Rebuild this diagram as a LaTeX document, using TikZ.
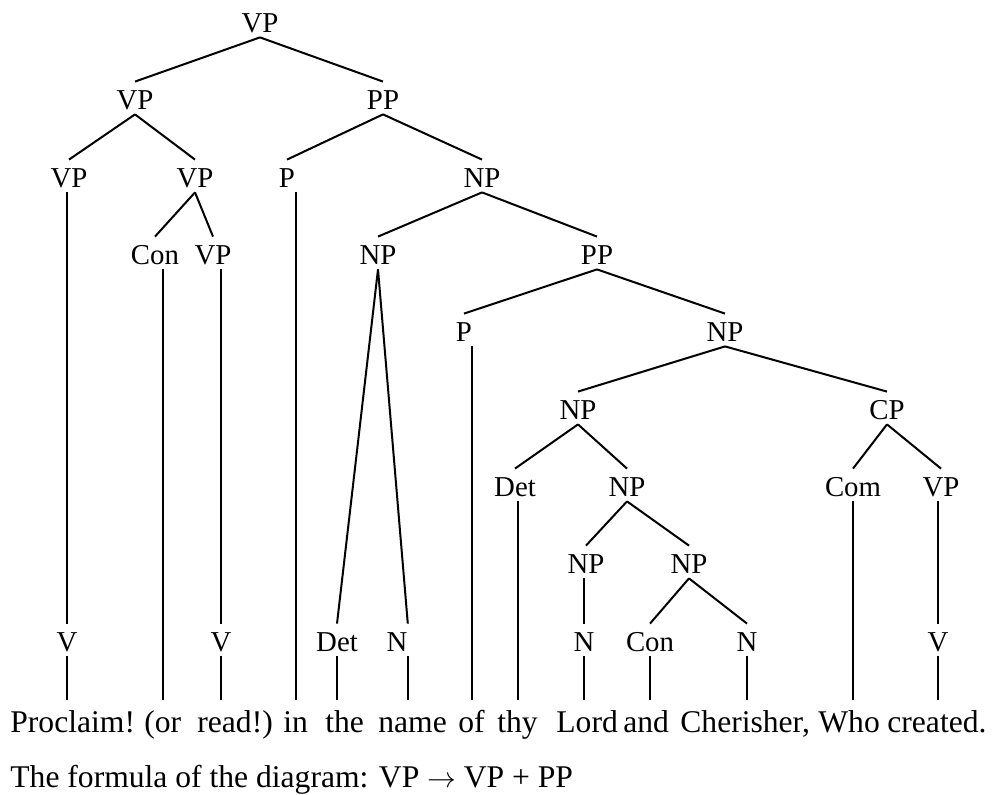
\documentclass[tikz,border=0pt]{standalone}
\usepackage{fontspec}
\setmainfont{Liberation Serif}

\begin{document}
\begin{tikzpicture}[
      x=0.5pt,y=-0.5pt,
      cat/.style={anchor=base,inner sep=0pt,text height=14pt,text depth=2pt,
                  font=\fontsize{14.4}{16}\selectfont},
      word/.style={anchor=base west,inner sep=0pt,text height=16pt,text depth=0pt,
                   font=\fontsize{15.8}{18}\selectfont},
      br/.style={line width=1pt}
    ]
      \useasboundingbox (0,0) rectangle (995,795);

      % categories
      \node[cat] (vp0) at (260,33) {VP};
      \node[cat] (vp1) at (135,110) {VP};
      \node[cat] (pp1) at (383,110) {PP};
      \node[cat] (vp2) at (69,188) {VP};
      \node[cat] (vp3) at (195,188) {VP};
      \node[cat] (p1) at (287,188) {P};
      \node[cat] (np1) at (482,188) {NP};
      \node[cat] (con1) at (155,265) {Con};
      \node[cat] (vp4) at (213,265) {VP};
      \node[cat] (np2) at (378,265) {NP};
      \node[cat] (pp2) at (597,265) {PP};
      \node[cat] (p2) at (464,342) {P};
      \node[cat] (np3) at (725,342) {NP};
      \node[cat] (np4) at (578,420) {NP};
      \node[cat] (cp) at (887,420) {CP};
      \node[cat] (det2) at (515,497) {Det};
      \node[cat] (np5) at (627,497) {NP};
      \node[cat] (com) at (853,497) {Com};
      \node[cat] (vp5) at (941,497) {VP};
      \node[cat] (np6) at (586,574) {NP};
      \node[cat] (np7) at (689,574) {NP};
      \node[cat] (v1) at (67,652) {V};
      \node[cat] (v2) at (221,652) {V};
      \node[cat] (det1) at (337,652) {Det};
      \node[cat] (n1) at (397,652) {N};
      \node[cat] (n2) at (584,652) {N};
      \node[cat] (con2) at (650,652) {Con};
      \node[cat] (n3) at (747,652) {N};
      \node[cat] (v3) at (938,652) {V};

      % sentence
      \node[word] (w1) at (10,732) {Proclaim!};
      \node[word] (w2) at (144,732) {(or};
      \node[word] (w3) at (197,732) {read!)};
      \node[word] (w4) at (283,732) {in};
      \node[word] (w5) at (325,732) {the};
      \node[word] (w6) at (378,732) {name};
      \node[word] (w7) at (458,732) {of};
      \node[word] (w8) at (497,732) {thy};
      \node[word] (w9) at (556,732) {Lord};
      \node[word] (w10) at (623,732) {and};
      \node[word] (w11) at (680,732) {Cherisher,};
      \node[word] (w12) at (818,732) {Who};
      \node[word] (w13) at (887,732) {created.};
      \node[word] (formula) at (10,787) {The formula of the diagram: VP $\rightarrow$ VP + PP};

      % branches
      \draw[br] (vp0.south) -- (vp1.north);
      \draw[br] (vp0.south) -- (pp1.north);
      \draw[br] (vp1.south) -- (vp2.north);
      \draw[br] (vp1.south) -- (vp3.north);
      \draw[br] (pp1.south) -- (p1.north);
      \draw[br] (pp1.south) -- (np1.north);
      \draw[br] (vp3.south) -- (con1.north);
      \draw[br] (vp3.south) -- (vp4.north);
      \draw[br] (np1.south) -- (np2.north);
      \draw[br] (np1.south) -- (pp2.north);
      \draw[br] (np2.south) -- (det1.north);
      \draw[br] (np2.south) -- (n1.north east);
      \draw[br] (pp2.south) -- (p2.north);
      \draw[br] (pp2.south) -- (np3.north);
      \draw[br] (np3.south) -- (np4.north);
      \draw[br] (np3.south) -- (cp.north);
      \draw[br] (np4.south) -- (det2.north);
      \draw[br] (np4.south) -- (np5.north);
      \draw[br] (cp.south) -- (com.north);
      \draw[br] (cp.south) -- (vp5.north);
      \draw[br] (np5.south) -- (np6.north);
      \draw[br] (np5.south) -- (np7.north);
      \draw[br] (np7.south) -- (con2.north);
      \draw[br] (np7.south) -- (n3.north);

      % vertical lines
      \draw[br] (v1.north |- vp2.south) -- (v1.north);
      \draw[br] (v2.north |- vp4.south) -- (v2.north);
      \draw[br] (n2.north |- np6.south) -- (n2.north);
      \draw[br] (v3.north |- vp5.south) -- (v3.north);
      \draw[br] (v1.south) -- (v1.south |- w1.north);
      \draw[br] (con1.south -| w2.north) -- (w2.north);
      \draw[br] (v2.south) -- (v2.south |- w3.north);
      \draw[br] (p1.south -| w4.north) -- (w4.north);
      \draw[br] (det1.south) -- (det1.south |- w5.north);
      \draw[br] (n1.south east) -- (n1.south east |- w6.north);
      \draw[br] (p2.south -| w7.north) -- (w7.north);
      \draw[br] (det2.south -| w8.north) -- (w8.north);
      \draw[br] (n2.south) -- (n2.south |- w9.north);
      \draw[br] (con2.south) -- (con2.south |- w10.north);
      \draw[br] (n3.south) -- (n3.south |- w11.north);
      \draw[br] (com.south) -- (com.south |- w12.north);
      \draw[br] (v3.south) -- (v3.south |- w13.north);
    \end{tikzpicture}
\end{document}
